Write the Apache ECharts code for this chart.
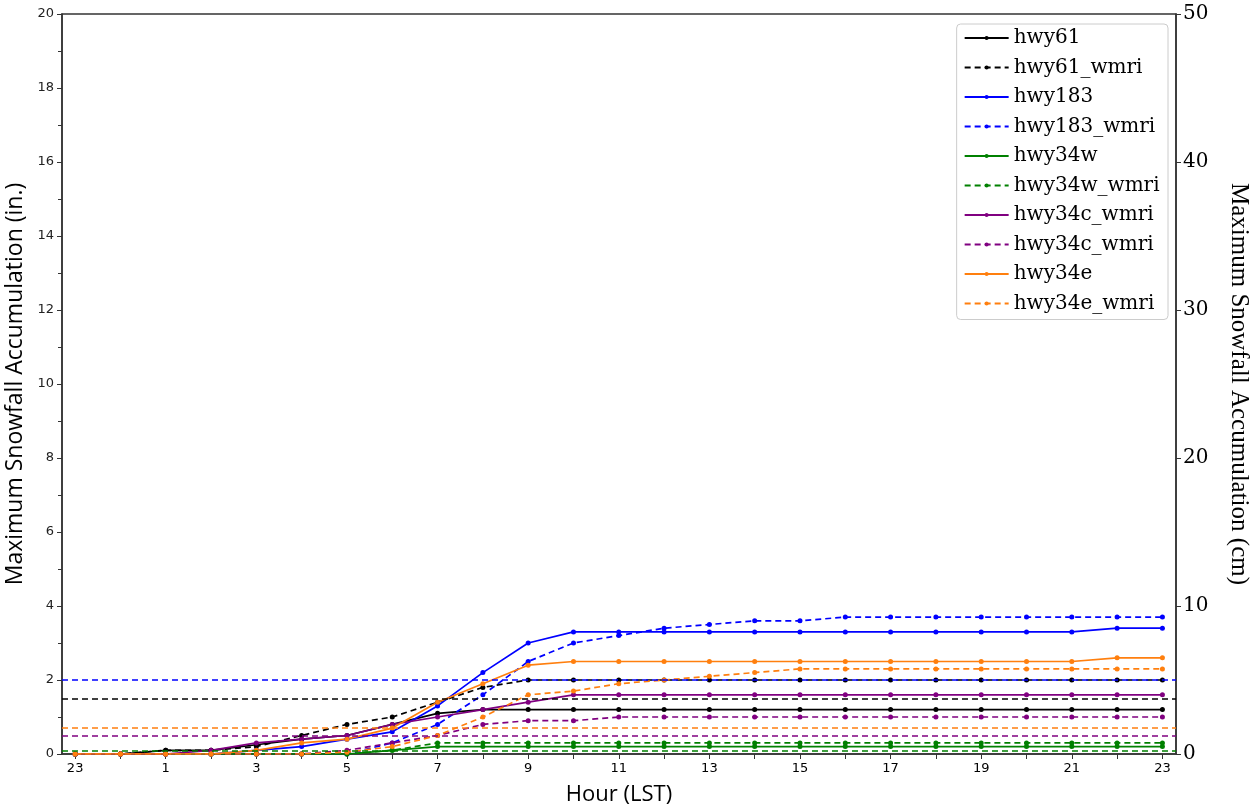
<!DOCTYPE html>
<html><head><meta charset="utf-8">
<script src="https://cdn.jsdelivr.net/npm/echarts@6/dist/echarts.min.js"></script>
<style>html,body{margin:0;padding:0;background:#fff}#c{width:1257px;height:807px}</style>
</head><body><div id="c"></div>
<script>
const hours = ['23','0','1','2','3','4','5','6','7','8','9','10','11','12','13','14','15','16','17','18','19','20','21','22','23'];
const hwy61       = [0,0,0.1,0.1,0.25,0.4,0.5,0.8,1.1,1.2,1.2,1.2,1.2,1.2,1.2,1.2,1.2,1.2,1.2,1.2,1.2,1.2,1.2,1.2,1.2];
const hwy61_wmri  = [0,0,0.1,0.1,0.2,0.5,0.8,1.0,1.4,1.8,2.0,2.0,2.0,2.0,2.0,2.0,2.0,2.0,2.0,2.0,2.0,2.0,2.0,2.0,2.0];
const hwy183      = [0,0,0,0,0.1,0.2,0.4,0.6,1.3,2.2,3.0,3.3,3.3,3.3,3.3,3.3,3.3,3.3,3.3,3.3,3.3,3.3,3.3,3.4,3.4];
const hwy183_wmri = [0,0,0,0,0,0,0,0.3,0.8,1.6,2.5,3.0,3.2,3.4,3.5,3.6,3.6,3.7,3.7,3.7,3.7,3.7,3.7,3.7,3.7];
const hwy34w      = [0,0,0,0,0,0,0,0.1,0.2,0.2,0.2,0.2,0.2,0.2,0.2,0.2,0.2,0.2,0.2,0.2,0.2,0.2,0.2,0.2,0.2];
const hwy34w_wmri = [0,0,0,0,0,0,0,0.1,0.3,0.3,0.3,0.3,0.3,0.3,0.3,0.3,0.3,0.3,0.3,0.3,0.3,0.3,0.3,0.3,0.3];
const hwy34c      = [0,0,0,0.1,0.3,0.4,0.5,0.8,1.0,1.2,1.4,1.6,1.6,1.6,1.6,1.6,1.6,1.6,1.6,1.6,1.6,1.6,1.6,1.6,1.6];
const hwy34c_wmri = [0,0,0,0,0,0,0.1,0.3,0.5,0.8,0.9,0.9,1.0,1.0,1.0,1.0,1.0,1.0,1.0,1.0,1.0,1.0,1.0,1.0,1.0];
const hwy34e      = [0,0,0,0,0.1,0.3,0.4,0.7,1.4,1.9,2.4,2.5,2.5,2.5,2.5,2.5,2.5,2.5,2.5,2.5,2.5,2.5,2.5,2.6,2.6];
const hwy34e_wmri = [0,0,0,0,0,0,0.05,0.2,0.5,1.0,1.6,1.7,1.9,2.0,2.1,2.2,2.3,2.3,2.3,2.3,2.3,2.3,2.3,2.3,2.3];
// observed reference levels (in.)
const ref_black = 1.5, ref_blue = 2.0, ref_green = 0.1, ref_purple = 0.5, ref_orange = 0.7;
const leftTicks = [0,2,4,6,8,10,12,14,16,18,20];
const rightTicks = [0,10,20,30,40,50];

const toXY = arr => arr.map((v,i)=>[i,v]);
const C = {black:'#000000', blue:'#0000ff', green:'#008000', purple:'#800080', orange:'#ff7f0e'};
function mk(name, data, color, dashed, ref){
  const s = {
    name, type:'line', data: toXY(data), xAxisIndex:0, yAxisIndex:0,
    symbol:'circle', symbolSize:5, showSymbol:true,
    itemStyle:{color}, lineStyle:{color, width:1.7, type: dashed?[6,4]:'solid'},
    emphasis:{disabled:true}, animation:false, z: 3
  };
  if (ref !== undefined) {
    s.markLine = {silent:true, symbol:['none','none'], label:{show:false},
      lineStyle:{color, width:1.7, type:[6,4]}, data:[{yAxis:ref}], animation:false};
  }
  return s;
}
const series = [
  mk('hwy61', hwy61, C.black, false),
  mk('hwy61_wmri', hwy61_wmri, C.black, true, ref_black),
  mk('hwy183', hwy183, C.blue, false),
  mk('hwy183_wmri', hwy183_wmri, C.blue, true, ref_blue),
  mk('hwy34w', hwy34w, C.green, false),
  mk('hwy34w_wmri', hwy34w_wmri, C.green, true, ref_green),
  mk('hwy34c_wmri', hwy34c, C.purple, false),
  mk('hwy34c_wmri ', hwy34c_wmri, C.purple, true, ref_purple),
  mk('hwy34e', hwy34e, C.orange, false),
  mk('hwy34e_wmri', hwy34e_wmri, C.orange, true, ref_orange)
];
const chart = echarts.init(document.getElementById('c'), null, {renderer:'canvas'});
const axisCol = '#333';
chart.setOption({
  animation:false,
  backgroundColor:'#fff',
  grid:{left:62, right:81, top:14, bottom:53, containLabel:false, outerBoundsMode:'none',
    show:true, borderColor:axisCol, borderWidth:1.5, backgroundColor:'transparent'},
  legend:{
    top:24, right:89, orient:'vertical', itemWidth:44, itemHeight:5, itemGap:9.5,
    backgroundColor:'#fff', borderColor:'#cccccc', borderWidth:1, borderRadius:4,
    padding:[4,8,6,7],
    textStyle:{fontFamily:'DejaVu Serif', fontSize:20, color:'#000'},
    data: series.map(s=>s.name)
  },
  xAxis:{
    type:'value', min:-0.29, max:24.3,
    name:'Hour (LST)', nameLocation:'middle', nameGap:30,
    nameTextStyle:{fontFamily:'Open Sans', fontSize:22, color:'#000'},
    axisLine:{show:true, onZero:false, lineStyle:{color:axisCol, width:1.5}},
    axisTick:{show:true, length:5, lineStyle:{color:axisCol}, customValues:[...hours.keys()]},
    axisLabel:{fontFamily:'DejaVu Sans', fontSize:13, color:'#000', margin:8,
      customValues: hours.map((h,i)=>i).filter(i=>i%2===0),
      formatter: v => hours[Math.round(v)]},
    splitLine:{show:false}
  },
  yAxis:[{
    type:'value', min:0, max:20, interval:2, position:'left',
    name:'Maximum Snowfall Accumulation (in.)', nameLocation:'middle', nameGap:30,
    nameTextStyle:{fontFamily:'Open Sans', fontSize:23, color:'#000'},
    axisLine:{show:true, onZero:false, lineStyle:{color:axisCol, width:1.5}},
    axisTick:{show:true, length:5, lineStyle:{color:axisCol}},
    minorTick:{show:true, splitNumber:2, length:4, lineStyle:{color:axisCol}},
    axisLabel:{fontFamily:'DejaVu Sans', fontSize:13, color:'#222', margin:8,
      customValues: leftTicks},
    splitLine:{show:false}
  },{
    type:'value', min:0, max:50, interval:10, position:'right',
    name:'Maximum Snowfall Accumulation (cm)', nameLocation:'middle', nameGap:50, nameRotate:-90,
    nameTextStyle:{fontFamily:'Liberation Serif', fontSize:25, color:'#000'},
    axisLine:{show:true, onZero:false, lineStyle:{color:axisCol, width:1.5}},
    axisTick:{show:true, length:5, lineStyle:{color:axisCol}},
    axisLabel:{fontFamily:'DejaVu Serif', fontSize:20, color:'#000', margin:7,
      customValues: rightTicks},
    splitLine:{show:false}
  }],
  series
});
</script></body></html>
